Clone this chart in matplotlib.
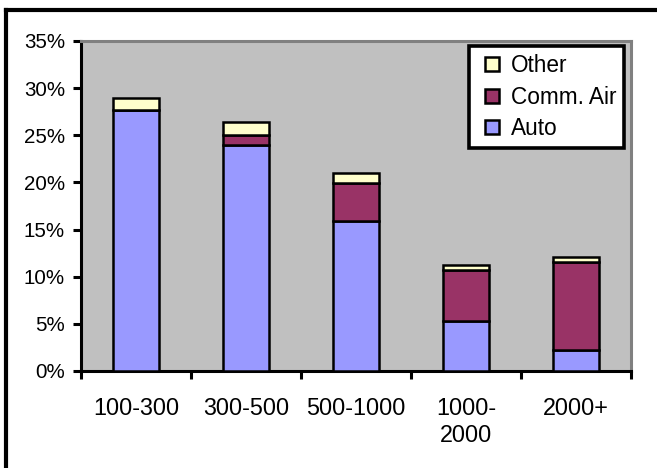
import matplotlib
matplotlib.use("Agg")
import matplotlib.pyplot as plt
import numpy as np
from matplotlib.lines import Line2D

plt.rcParams['font.family'] = ['Liberation Sans', 'DejaVu Sans']

categories = ["100-300", "300-500", "500-1000", "1000-\n2000", "2000+"]
auto = [27.7, 24.0, 15.9, 5.3, 2.2]
comm_air = [0.0, 1.0, 4.0, 5.4, 9.4]
other = [1.3, 1.4, 1.1, 0.5, 0.5]
yticks = [0, 5, 10, 15, 20, 25, 30, 35]

c_auto = "#9999FF"
c_air = "#993366"
c_other = "#FFFFCC"

W, H = 657, 468
fig = plt.figure(figsize=(W / 100, H / 100), dpi=100)
fig.patch.set_facecolor("white")

ax = fig.add_axes([81 / W, 1 - 371 / H, (631 - 81) / W, (371 - 41) / H])
ax.set_facecolor("#C0C0C0")

x = np.arange(len(categories))
bw = 0.42
lw = 1.8
ax.bar(x, auto, bw, color=c_auto, edgecolor="black", linewidth=lw, label="Auto", zorder=3)
ax.bar(x, comm_air, bw, bottom=auto, color=c_air, edgecolor="black", linewidth=lw,
       label="Comm. Air", zorder=3)
bottom3 = [a + c for a, c in zip(auto, comm_air)]
ax.bar(x, other, bw, bottom=bottom3, color=c_other, edgecolor="black", linewidth=lw,
       label="Other", zorder=3)

ax.set_xlim(-0.5, len(categories) - 0.5)
ax.set_ylim(0, 35)
ax.set_yticks(yticks)
ax.set_yticklabels([f"{v}%" for v in yticks], fontsize=14.8)
ax.set_xticks(x)
ax.set_xticklabels(categories, fontsize=16.8, linespacing=1.2)
ax.set_xticks(np.arange(-0.5, len(categories), 1.0), minor=True)
ax.tick_params(axis="x", which="major", length=0, pad=19)
ax.tick_params(axis="x", which="minor", length=6, width=2.2, direction="out")
ax.tick_params(axis="y", which="major", length=5.5, width=2.2, direction="out", pad=6)

for s in ["left", "bottom"]:
    ax.spines[s].set_color("black")
    ax.spines[s].set_linewidth(2.2)
for s in ["top", "right"]:
    ax.spines[s].set_color("#808080")
    ax.spines[s].set_linewidth(2.2)

handles = [Line2D([], [], linestyle="none", marker="s", markersize=9.5,
                  markerfacecolor=c, markeredgecolor="black", markeredgewidth=1.8)
           for c in (c_other, c_air, c_auto)]
leg = ax.legend(handles, ["Other", "Comm. Air", "Auto"], loc="upper right",
                bbox_to_anchor=(624 / W, 1 - 46 / H), bbox_transform=fig.transFigure,
                fontsize=16.3, frameon=True, fancybox=False, framealpha=1,
                borderpad=0.35, handlelength=1.4, handletextpad=0.1,
                labelspacing=0.38, borderaxespad=0)
leg.get_frame().set_edgecolor("black")
leg.get_frame().set_linewidth(2.6)
leg.get_frame().set_facecolor("white")
leg.set_zorder(5)

# chart area frame (left and top edges visible)
fig.add_artist(Line2D([6 / W, 6 / W], [0, 1 - 10 / H], color="black", linewidth=3,
                      transform=fig.transFigure))
fig.add_artist(Line2D([6 / W, 1], [1 - 10 / H, 1 - 10 / H], color="black", linewidth=3,
                      transform=fig.transFigure))

fig.savefig("out.png", dpi=100)
